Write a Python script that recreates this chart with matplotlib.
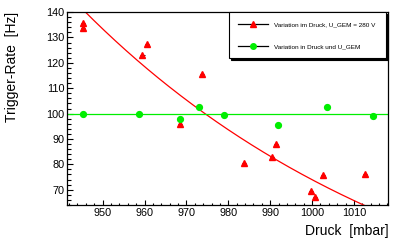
import numpy as np
import matplotlib
matplotlib.use("Agg")
import matplotlib.pyplot as plt
from matplotlib.lines import Line2D
from matplotlib.ticker import MultipleLocator

plt.rcParams["font.family"] = ["Liberation Sans", "DejaVu Sans"]

# pressure scan at fixed U_GEM = 280 V
druck_fix = [945.4, 945.4, 959.5, 960.6, 968.5, 973.7, 983.7, 990.4,
             991.3, 999.7, 1000.7, 1002.7, 1012.6]
rate_fix = [135.9, 133.7, 123.2, 127.4, 95.9, 115.7, 80.4, 83.0,
            87.9, 69.4, 67.1, 75.7, 76.2]
druck_err = 0.5

# pressure and U_GEM varied together
druck_var = [945.4, 958.7, 968.5, 973.0, 979.0, 991.8, 1003.5, 1014.5]
rate_var = [99.75, 99.75, 97.8, 102.75, 99.5, 95.6, 102.5, 99.2]

# fit results
fit_A, fit_x0, fit_k = 140.0, 945.9, 0.0118   # expo fit, fixed U_GEM
fit_const = 99.75                              # pol0 fit, varied U_GEM

label_fix = "Variation im Druck, U_GEM = 280 V"
label_var = "Variation in Druck und U_GEM"

RED = "#ff0000"
GREEN = "#00ee00"

fig = plt.figure(figsize=(3.93, 2.42), dpi=100)
ax = fig.add_axes([0.1705, 0.1517, 0.8165, 0.7983])

xlo, xhi = 941.5, 1018.1
ylo, yhi = 63.85, 140.0

xs = np.linspace(xlo, xhi, 300)
ax.plot(xs, fit_A * np.exp(-fit_k * (xs - fit_x0)), color=RED, lw=0.9, zorder=2)
ax.plot([xlo, xhi], [fit_const, fit_const], color=GREEN, lw=0.9, zorder=2)

ax.errorbar(druck_fix, rate_fix, xerr=druck_err, fmt="none", ecolor="k",
            elinewidth=0.7, capsize=0, zorder=3)
ax.plot(druck_fix, rate_fix, ls="none", marker="^", ms=4.2, color=RED,
        mec=RED, zorder=4)
ax.plot(druck_var, rate_var, ls="none", marker="o", ms=4.2, color=GREEN,
        mec=GREEN, zorder=4)

ax.set_xlim(xlo, xhi)
ax.set_ylim(ylo, yhi)
ax.xaxis.set_major_locator(MultipleLocator(10))
ax.xaxis.set_minor_locator(MultipleLocator(2))
ax.yaxis.set_major_locator(MultipleLocator(10))
ax.yaxis.set_minor_locator(MultipleLocator(2))
ax.tick_params(which="both", direction="in", top=False, right=False,
               labelsize=7.8, width=0.8, color="k")
ax.tick_params(axis="x", which="major", length=3.4, pad=2.2)
ax.tick_params(axis="x", which="minor", length=1.8)
ax.tick_params(axis="y", which="major", length=4.3, pad=2.0)
ax.tick_params(axis="y", which="minor", length=2.6)
for sp in ax.spines.values():
    sp.set_linewidth(0.9)
    sp.set_color("k")

fig.text(0.989, 0.017, "Druck  [mbar]", ha="right", va="bottom", fontsize=10)
fig.text(0.031, 0.95, "Trigger-Rate  [Hz]", ha="center", va="top",
         rotation=90, fontsize=10)

handles = [
    Line2D([], [], color="k", lw=0.9, marker="^", ms=4.0, mfc=RED, mec=RED),
    Line2D([], [], color="k", lw=0.9, marker="o", ms=4.0, mfc=GREEN, mec=GREEN),
]
leg = ax.legend(handles, [label_fix, label_var], loc="upper left",
                bbox_to_anchor=(0.505, 0.755, 0.489, 0.245), mode="expand",
                fontsize=4.6, frameon=True, fancybox=False,
                shadow={"ox": 1.5, "oy": -1.5, "color": "k", "alpha": 1},
                handlelength=4.6, handletextpad=1.0, borderpad=1.45,
                labelspacing=2.6, borderaxespad=0)
leg.get_frame().set_edgecolor("k")
leg.get_frame().set_linewidth(0.8)

fig.savefig("out.png", dpi=100)
